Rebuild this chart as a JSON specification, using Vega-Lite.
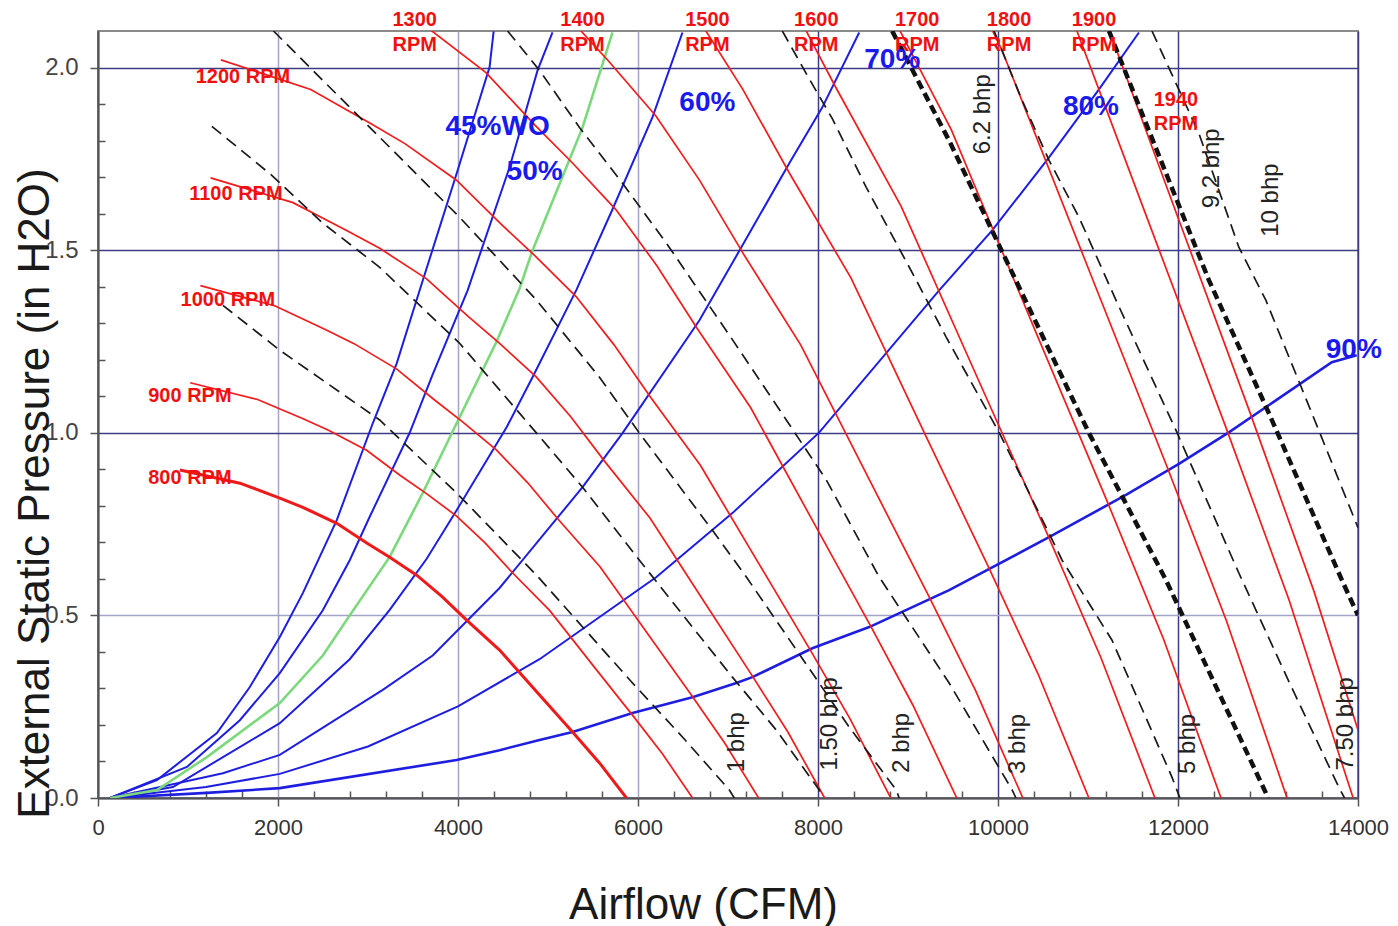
{
"$schema": "https://vega.github.io/schema/vega-lite/v6.json",
"width": 1260, "height": 767,
"autosize": "none",
"padding": {"left": 98, "top": 31, "right": 40, "bottom": 128},
"background": "white",
"config": {"font": "Liberation Sans", "view": {"stroke": "#8a8a8a", "strokeWidth": 2}},
"datasets": {
"L": [
{"s":"b45","k":"blue","q":133,"p":0},{"s":"b45","k":"blue","q":655,"p":0.049},{"s":"b45","k":"blue","q":1321,"p":0.178},{"s":"b45","k":"blue","q":1687,"p":0.304},{"s":"b45","k":"blue","q":2020,"p":0.441},{"s":"b45","k":"blue","q":2276,"p":0.561},{"s":"b45","k":"blue","q":2653,"p":0.761},{"s":"b45","k":"blue","q":3053,"p":1.026},{"s":"b45","k":"blue","q":3319,"p":1.19},{"s":"b45","k":"blue","q":3574,"p":1.39},{"s":"b45","k":"blue","q":3985,"p":1.71},{"s":"b45","k":"blue","q":4351,"p":2.001},{"s":"b45","k":"blue","q":4396,"p":2.099},
{"s":"b50","k":"blue","q":133,"p":0},{"s":"b50","k":"blue","q":988,"p":0.085},{"s":"b50","k":"blue","q":1576,"p":0.213},{"s":"b50","k":"blue","q":2020,"p":0.342},{"s":"b50","k":"blue","q":2498,"p":0.514},{"s":"b50","k":"blue","q":2797,"p":0.651},{"s":"b50","k":"blue","q":3019,"p":0.77},{"s":"b50","k":"blue","q":3463,"p":1.0},{"s":"b50","k":"blue","q":3719,"p":1.16},{"s":"b50","k":"blue","q":4107,"p":1.39},{"s":"b50","k":"blue","q":4573,"p":1.727},{"s":"b50","k":"blue","q":4884,"p":1.992},{"s":"b50","k":"blue","q":5050,"p":2.096},
{"s":"g55","k":"green","q":133,"p":0},{"s":"g55","k":"green","q":655,"p":0.022},{"s":"g55","k":"green","q":1210,"p":0.112},{"s":"g55","k":"green","q":2020,"p":0.26},{"s":"g55","k":"green","q":2498,"p":0.39},{"s":"g55","k":"green","q":2797,"p":0.5},{"s":"g55","k":"green","q":3241,"p":0.66},{"s":"g55","k":"green","q":3608,"p":0.835},{"s":"g55","k":"green","q":3985,"p":1.026},{"s":"g55","k":"green","q":4429,"p":1.25},{"s":"g55","k":"green","q":4684,"p":1.395},{"s":"g55","k":"green","q":4829,"p":1.5},{"s":"g55","k":"green","q":5384,"p":1.836},{"s":"g55","k":"green","q":5717,"p":2.096},
{"s":"b60","k":"blue","q":133,"p":0},{"s":"b60","k":"blue","q":833,"p":0.03},{"s":"b60","k":"blue","q":2020,"p":0.205},{"s":"b60","k":"blue","q":2797,"p":0.38},{"s":"b60","k":"blue","q":3241,"p":0.515},{"s":"b60","k":"blue","q":3652,"p":0.655},{"s":"b60","k":"blue","q":3985,"p":0.788},{"s":"b60","k":"blue","q":4540,"p":1.015},{"s":"b60","k":"blue","q":4828,"p":1.152},{"s":"b60","k":"blue","q":5317,"p":1.392},{"s":"b60","k":"blue","q":5717,"p":1.612},{"s":"b60","k":"blue","q":6161,"p":1.864},{"s":"b60","k":"blue","q":6494,"p":2.096},
{"s":"b70","k":"blue","q":133,"p":0},{"s":"b70","k":"blue","q":1388,"p":0.068},{"s":"b70","k":"blue","q":2020,"p":0.118},{"s":"b70","k":"blue","q":3164,"p":0.296},{"s":"b70","k":"blue","q":3719,"p":0.39},{"s":"b70","k":"blue","q":4462,"p":0.575},{"s":"b70","k":"blue","q":5384,"p":0.851},{"s":"b70","k":"blue","q":5828,"p":0.999},{"s":"b70","k":"blue","q":6683,"p":1.308},{"s":"b70","k":"blue","q":7237,"p":1.546},{"s":"b70","k":"blue","q":7681,"p":1.738},{"s":"b70","k":"blue","q":8048,"p":1.891},{"s":"b70","k":"blue","q":8458,"p":2.096},
{"s":"b80","k":"blue","q":133,"p":0},{"s":"b80","k":"blue","q":1200,"p":0.03},{"s":"b80","k":"blue","q":2020,"p":0.066},{"s":"b80","k":"blue","q":3000,"p":0.141},{"s":"b80","k":"blue","q":4000,"p":0.251},{"s":"b80","k":"blue","q":4906,"p":0.38},{"s":"b80","k":"blue","q":6205,"p":0.605},{"s":"b80","k":"blue","q":7049,"p":0.78},{"s":"b80","k":"blue","q":8014,"p":1.001},{"s":"b80","k":"blue","q":9346,"p":1.39},{"s":"b80","k":"blue","q":9935,"p":1.554},{"s":"b80","k":"blue","q":10567,"p":1.754},{"s":"b80","k":"blue","q":11122,"p":1.94},{"s":"b80","k":"blue","q":11566,"p":2.096},
{"s":"b90","k":"blue9","q":133,"p":0},{"s":"b90","k":"blue9","q":1210,"p":0.014},{"s":"b90","k":"blue9","q":2020,"p":0.027},{"s":"b90","k":"blue9","q":3985,"p":0.104},{"s":"b90","k":"blue9","q":4462,"p":0.131},{"s":"b90","k":"blue9","q":4906,"p":0.159},{"s":"b90","k":"blue9","q":5273,"p":0.181},{"s":"b90","k":"blue9","q":5939,"p":0.233},{"s":"b90","k":"blue9","q":6605,"p":0.276},{"s":"b90","k":"blue9","q":7093,"p":0.315},{"s":"b90","k":"blue9","q":7271,"p":0.331},{"s":"b90","k":"blue9","q":7937,"p":0.41},{"s":"b90","k":"blue9","q":8569,"p":0.468},{"s":"b90","k":"blue9","q":9457,"p":0.569},{"s":"b90","k":"blue9","q":10567,"p":0.714},{"s":"b90","k":"blue9","q":11422,"p":0.83},{"s":"b90","k":"blue9","q":12010,"p":0.915},{"s":"b90","k":"blue9","q":12565,"p":1.001},{"s":"b90","k":"blue9","q":13709,"p":1.193},{"s":"b90","k":"blue9","q":13986,"p":1.212},
{"s":"r800","k":"red8","q":910,"p":0.898},{"s":"r800","k":"red8","q":1576,"p":0.862},{"s":"r800","k":"red8","q":2020,"p":0.821},{"s":"r800","k":"red8","q":2276,"p":0.796},{"s":"r800","k":"red8","q":2653,"p":0.752},{"s":"r800","k":"red8","q":2986,"p":0.698},{"s":"r800","k":"red8","q":3241,"p":0.659},{"s":"r800","k":"red8","q":3541,"p":0.61},{"s":"r800","k":"red8","q":3820,"p":0.552},{"s":"r800","k":"red8","q":4096,"p":0.487},{"s":"r800","k":"red8","q":4462,"p":0.405},{"s":"r800","k":"red8","q":4906,"p":0.282},{"s":"r800","k":"red8","q":5273,"p":0.181},{"s":"r800","k":"red8","q":5572,"p":0.096},{"s":"r800","k":"red8","q":5872,"p":0},
{"s":"r900","k":"red","q":1024,"p":1.137},{"s":"r900","k":"red","q":1773,"p":1.091},{"s":"r900","k":"red","q":2273,"p":1.039},{"s":"r900","k":"red","q":2561,"p":1.007},{"s":"r900","k":"red","q":2985,"p":0.952},{"s":"r900","k":"red","q":3359,"p":0.883},{"s":"r900","k":"red","q":3646,"p":0.834},{"s":"r900","k":"red","q":3984,"p":0.772},{"s":"r900","k":"red","q":4298,"p":0.699},{"s":"r900","k":"red","q":4608,"p":0.616},{"s":"r900","k":"red","q":5020,"p":0.513},{"s":"r900","k":"red","q":5519,"p":0.357},{"s":"r900","k":"red","q":5932,"p":0.229},{"s":"r900","k":"red","q":6269,"p":0.122},{"s":"r900","k":"red","q":6606,"p":0},
{"s":"r1000","k":"red","q":1138,"p":1.403},{"s":"r1000","k":"red","q":1970,"p":1.347},{"s":"r1000","k":"red","q":2525,"p":1.283},{"s":"r1000","k":"red","q":2845,"p":1.244},{"s":"r1000","k":"red","q":3316,"p":1.175},{"s":"r1000","k":"red","q":3733,"p":1.091},{"s":"r1000","k":"red","q":4051,"p":1.03},{"s":"r1000","k":"red","q":4426,"p":0.953},{"s":"r1000","k":"red","q":4775,"p":0.863},{"s":"r1000","k":"red","q":5120,"p":0.761},{"s":"r1000","k":"red","q":5578,"p":0.633},{"s":"r1000","k":"red","q":6133,"p":0.441},{"s":"r1000","k":"red","q":6591,"p":0.283},{"s":"r1000","k":"red","q":6965,"p":0.15},{"s":"r1000","k":"red","q":7340,"p":0},
{"s":"r1100","k":"red","q":1251,"p":1.698},{"s":"r1100","k":"red","q":2167,"p":1.63},{"s":"r1100","k":"red","q":2778,"p":1.552},{"s":"r1100","k":"red","q":3130,"p":1.505},{"s":"r1100","k":"red","q":3648,"p":1.422},{"s":"r1100","k":"red","q":4106,"p":1.32},{"s":"r1100","k":"red","q":4456,"p":1.246},{"s":"r1100","k":"red","q":4869,"p":1.153},{"s":"r1100","k":"red","q":5253,"p":1.044},{"s":"r1100","k":"red","q":5632,"p":0.921},{"s":"r1100","k":"red","q":6135,"p":0.766},{"s":"r1100","k":"red","q":6746,"p":0.533},{"s":"r1100","k":"red","q":7250,"p":0.342},{"s":"r1100","k":"red","q":7662,"p":0.182},{"s":"r1100","k":"red","q":8074,"p":0},
{"s":"r1200","k":"red","q":1365,"p":2.021},{"s":"r1200","k":"red","q":2364,"p":1.94},{"s":"r1200","k":"red","q":3030,"p":1.847},{"s":"r1200","k":"red","q":3414,"p":1.791},{"s":"r1200","k":"red","q":3980,"p":1.692},{"s":"r1200","k":"red","q":4479,"p":1.571},{"s":"r1200","k":"red","q":4862,"p":1.483},{"s":"r1200","k":"red","q":5312,"p":1.373},{"s":"r1200","k":"red","q":5730,"p":1.242},{"s":"r1200","k":"red","q":6144,"p":1.096},{"s":"r1200","k":"red","q":6693,"p":0.911},{"s":"r1200","k":"red","q":7359,"p":0.635},{"s":"r1200","k":"red","q":7910,"p":0.407},{"s":"r1200","k":"red","q":8358,"p":0.216},{"s":"r1200","k":"red","q":8808,"p":0},
{"s":"r1300","k":"red","q":3283,"p":2.168},{"s":"r1300","k":"red","q":3699,"p":2.102},{"s":"r1300","k":"red","q":4311,"p":1.986},{"s":"r1300","k":"red","q":4852,"p":1.843},{"s":"r1300","k":"red","q":5267,"p":1.74},{"s":"r1300","k":"red","q":5754,"p":1.611},{"s":"r1300","k":"red","q":6208,"p":1.458},{"s":"r1300","k":"red","q":6656,"p":1.286},{"s":"r1300","k":"red","q":7251,"p":1.069},{"s":"r1300","k":"red","q":7972,"p":0.745},{"s":"r1300","k":"red","q":8569,"p":0.478},{"s":"r1300","k":"red","q":9055,"p":0.254},{"s":"r1300","k":"red","q":9542,"p":0},
{"s":"r1400","k":"red","q":5226,"p":2.138},{"s":"r1400","k":"red","q":5672,"p":2.018},{"s":"r1400","k":"red","q":6197,"p":1.868},{"s":"r1400","k":"red","q":6685,"p":1.691},{"s":"r1400","k":"red","q":7168,"p":1.491},{"s":"r1400","k":"red","q":7809,"p":1.24},{"s":"r1400","k":"red","q":8586,"p":0.864},{"s":"r1400","k":"red","q":9228,"p":0.554},{"s":"r1400","k":"red","q":9751,"p":0.294},{"s":"r1400","k":"red","q":10276,"p":0},
{"s":"r1500","k":"red","q":6639,"p":2.145},{"s":"r1500","k":"red","q":7163,"p":1.941},{"s":"r1500","k":"red","q":7680,"p":1.712},{"s":"r1500","k":"red","q":8366,"p":1.424},{"s":"r1500","k":"red","q":9199,"p":0.991},{"s":"r1500","k":"red","q":9887,"p":0.636},{"s":"r1500","k":"red","q":10448,"p":0.338},{"s":"r1500","k":"red","q":11010,"p":0},
{"s":"r1600","k":"red","q":7640,"p":2.208},{"s":"r1600","k":"red","q":8192,"p":1.948},{"s":"r1600","k":"red","q":8924,"p":1.62},{"s":"r1600","k":"red","q":9812,"p":1.128},{"s":"r1600","k":"red","q":10546,"p":0.724},{"s":"r1600","k":"red","q":11144,"p":0.384},{"s":"r1600","k":"red","q":11744,"p":0},
{"s":"r1700","k":"red","q":8704,"p":2.199},{"s":"r1700","k":"red","q":9482,"p":1.829},{"s":"r1700","k":"red","q":10425,"p":1.273},{"s":"r1700","k":"red","q":11205,"p":0.817},{"s":"r1700","k":"red","q":11841,"p":0.434},{"s":"r1700","k":"red","q":12478,"p":0},
{"s":"r1800","k":"red","q":9216,"p":2.465},{"s":"r1800","k":"red","q":10040,"p":2.05},{"s":"r1800","k":"red","q":11039,"p":1.428},{"s":"r1800","k":"red","q":11864,"p":0.916},{"s":"r1800","k":"red","q":12537,"p":0.486},{"s":"r1800","k":"red","q":13212,"p":0},
{"s":"r1900","k":"red","q":9728,"p":2.747},{"s":"r1900","k":"red","q":10597,"p":2.284},{"s":"r1900","k":"red","q":11652,"p":1.591},{"s":"r1900","k":"red","q":12523,"p":1.021},{"s":"r1900","k":"red","q":13234,"p":0.542},{"s":"r1900","k":"red","q":13946,"p":0},
{"s":"r1940","k":"red","q":9933,"p":2.864},{"s":"r1940","k":"red","q":10820,"p":2.382},{"s":"r1940","k":"red","q":11897,"p":1.658},{"s":"r1940","k":"red","q":12787,"p":1.064},{"s":"r1940","k":"red","q":13512,"p":0.565},{"s":"r1940","k":"red","q":14240,"p":0},
{"s":"d1","k":"dash","q":1388,"p":1.349},{"s":"d1","k":"dash","q":2020,"p":1.226},{"s":"d1","k":"dash","q":3130,"p":1.035},{"s":"d1","k":"dash","q":3985,"p":0.835},{"s":"d1","k":"dash","q":4873,"p":0.61},{"s":"d1","k":"dash","q":5317,"p":0.487},{"s":"d1","k":"dash","q":5939,"p":0.315},{"s":"d1","k":"dash","q":6494,"p":0.167},{"s":"d1","k":"dash","q":7015,"p":0.022},{"s":"d1","k":"dash","q":7070,"p":0},
{"s":"d15","k":"dash","q":1265,"p":1.839},{"s":"d15","k":"dash","q":1931,"p":1.705},{"s":"d15","k":"dash","q":2498,"p":1.574},{"s":"d15","k":"dash","q":3130,"p":1.453},{"s":"d15","k":"dash","q":4018,"p":1.245},{"s":"d15","k":"dash","q":4873,"p":0.999},{"s":"d15","k":"dash","q":5384,"p":0.851},{"s":"d15","k":"dash","q":6016,"p":0.651},{"s":"d15","k":"dash","q":6605,"p":0.468},{"s":"d15","k":"dash","q":7049,"p":0.331},{"s":"d15","k":"dash","q":7537,"p":0.186},{"s":"d15","k":"dash","q":8014,"p":0.022},{"s":"d15","k":"dash","q":8048,"p":0},
{"s":"d2","k":"dash","q":1950,"p":2.1},{"s":"d2","k":"dash","q":3053,"p":1.828},{"s":"d2","k":"dash","q":4018,"p":1.59},{"s":"d2","k":"dash","q":4873,"p":1.363},{"s":"d2","k":"dash","q":5572,"p":1.152},{"s":"d2","k":"dash","q":6016,"p":0.999},{"s":"d2","k":"dash","q":6827,"p":0.733},{"s":"d2","k":"dash","q":7204,"p":0.605},{"s":"d2","k":"dash","q":7937,"p":0.342},{"s":"d2","k":"dash","q":8347,"p":0.194},{"s":"d2","k":"dash","q":8869,"p":0.022},{"s":"d2","k":"dash","q":8902,"p":0},
{"s":"d3","k":"dash","q":4551,"p":2.1},{"s":"d3","k":"dash","q":4906,"p":1.992},{"s":"d3","k":"dash","q":5350,"p":1.836},{"s":"d3","k":"dash","q":5828,"p":1.683},{"s":"d3","k":"dash","q":6316,"p":1.519},{"s":"d3","k":"dash","q":6649,"p":1.399},{"s":"d3","k":"dash","q":7049,"p":1.255},{"s":"d3","k":"dash","q":7648,"p":1.035},{"s":"d3","k":"dash","q":8092,"p":0.871},{"s":"d3","k":"dash","q":8680,"p":0.605},{"s":"d3","k":"dash","q":9457,"p":0.315},{"s":"d3","k":"dash","q":10157,"p":0.022},{"s":"d3","k":"dash","q":10200,"p":0},
{"s":"d5","k":"dash","q":7604,"p":2.1},{"s":"d5","k":"dash","q":7900,"p":1.97},{"s":"d5","k":"dash","q":8159,"p":1.86},{"s":"d5","k":"dash","q":8536,"p":1.672},{"s":"d5","k":"dash","q":9091,"p":1.418},{"s":"d5","k":"dash","q":9424,"p":1.262},{"s":"d5","k":"dash","q":10012,"p":1.001},{"s":"d5","k":"dash","q":10567,"p":0.725},{"s":"d5","k":"dash","q":10712,"p":0.651},{"s":"d5","k":"dash","q":11267,"p":0.432},{"s":"d5","k":"dash","q":11933,"p":0.057},{"s":"d5","k":"dash","q":12021,"p":0},
{"s":"d75","k":"dash","q":9957,"p":2.1},{"s":"d75","k":"dash","q":10268,"p":1.91},{"s":"d75","k":"dash","q":10567,"p":1.746},{"s":"d75","k":"dash","q":10900,"p":1.59},{"s":"d75","k":"dash","q":11311,"p":1.363},{"s":"d75","k":"dash","q":11977,"p":1.007},{"s":"d75","k":"dash","q":12676,"p":0.616},{"s":"d75","k":"dash","q":13230,"p":0.32},{"s":"d75","k":"dash","q":13786,"p":0.03},{"s":"d75","k":"dash","q":13850,"p":0},
{"s":"d10","k":"dash","q":11711,"p":2.1},{"s":"d10","k":"dash","q":12232,"p":1.82},{"s":"d10","k":"dash","q":12676,"p":1.508},{"s":"d10","k":"dash","q":12976,"p":1.363},{"s":"d10","k":"dash","q":13564,"p":1.007},{"s":"d10","k":"dash","q":14000,"p":0.74},
{"s":"t62","k":"dashT","q":8824,"p":2.1},{"s":"t62","k":"dashT","q":9457,"p":1.8},{"s":"t62","k":"dashT","q":10034,"p":1.502},{"s":"t62","k":"dashT","q":11011,"p":0.999},{"s":"t62","k":"dashT","q":11866,"p":0.597},{"s":"t62","k":"dashT","q":12976,"p":0.014},{"s":"t62","k":"dashT","q":13000,"p":0},
{"s":"t92","k":"dashT","q":11233,"p":2.1},{"s":"t92","k":"dashT","q":12343,"p":1.418},{"s":"t92","k":"dashT","q":13009,"p":1.054},{"s":"t92","k":"dashT","q":13820,"p":0.597},{"s":"t92","k":"dashT","q":14000,"p":0.5}
],
"T": [
{"t":"800 RPM","g":"rpm","q":1021,"p":0.876},
{"t":"900 RPM","g":"rpm","q":1021,"p":1.1},
{"t":"1000 RPM","g":"rpm","q":1443,"p":1.363},
{"t":"1100 RPM","g":"rpm","q":1532,"p":1.653},
{"t":"1200 RPM","g":"rpm","q":1610,"p":1.973},
{"t":"1300","g":"rpm","q":3519,"p":2.129},{"t":"RPM","g":"rpm","q":3519,"p":2.063},
{"t":"1400","g":"rpm","q":5384,"p":2.129},{"t":"RPM","g":"rpm","q":5384,"p":2.063},
{"t":"1500","g":"rpm","q":6771,"p":2.129},{"t":"RPM","g":"rpm","q":6771,"p":2.063},
{"t":"1600","g":"rpm","q":7981,"p":2.129},{"t":"RPM","g":"rpm","q":7981,"p":2.063},
{"t":"1700","g":"rpm","q":9102,"p":2.129},{"t":"RPM","g":"rpm","q":9102,"p":2.063},
{"t":"1800","g":"rpm","q":10123,"p":2.129},{"t":"RPM","g":"rpm","q":10123,"p":2.063},
{"t":"1900","g":"rpm","q":11067,"p":2.129},{"t":"RPM","g":"rpm","q":11067,"p":2.063},
{"t":"1940","g":"rpm","q":11977,"p":1.91},{"t":"RPM","g":"rpm","q":11977,"p":1.845},
{"t":"45%WO","g":"pct","q":4440,"p":1.836},
{"t":"50%","g":"pct","q":4851,"p":1.713},
{"t":"60%","g":"pct","q":6771,"p":1.902},
{"t":"70%","g":"pct","q":8825,"p":2.02},
{"t":"80%","g":"pct","q":11033,"p":1.891},
{"t":"90%","g":"pct","q":13953,"p":1.226},
{"t":"1 bhp","g":"bhp","q":7104,"p":0.153},
{"t":"1.50 bhp","g":"bhp","q":8136,"p":0.203},
{"t":"2 bhp","g":"bhp","q":8936,"p":0.151},
{"t":"3 bhp","g":"bhp","q":10223,"p":0.148},
{"t":"5 bhp","g":"bhp","q":12110,"p":0.148},
{"t":"7.50 bhp","g":"bhp","q":13864,"p":0.203},
{"t":"6.2 bhp","g":"bhp","q":9835,"p":1.872},
{"t":"9.2 bhp","g":"bhp","q":12377,"p":1.724},
{"t":"10 bhp","g":"bhp","q":13031,"p":1.637}
]
},
"encoding": {
"x": {"field": "q", "type": "quantitative",
 "scale": {"domain": [0, 14000], "nice": false, "zero": false},
 "axis": {"title": "Airflow (CFM)",
  "values": [0,400,800,1200,1600,2000,2400,2800,3200,3600,4000,4400,4800,5200,5600,6000,6400,6800,7200,7600,8000,8400,8800,9200,9600,10000,10400,10800,11200,11600,12000,12400,12800,13200,13600,14000],
  "labelExpr": "datum.value % 2000 == 0 ? datum.label : ''",
  "format": "d", "labelFlush": false, "labelOverlap": false,
  "labelFontSize": 22, "labelColor": "#333333", "labelPadding": 11,
  "domainColor": "#555555", "domainWidth": 2,
  "tickColor": "#555555", "tickWidth": 1.5,
  "tickSize": {"condition": {"test": "datum.value % 2000 != 0", "value": -7}, "value": 8},
  "grid": true,
  "gridOpacity": {"condition": {"test": "datum.value % 2000 != 0", "value": 0}, "value": 1},
  "gridColor": {"condition": {"test": "datum.value > 0 && datum.value <= 6000", "value": "#a3a3c8"}, "value": "#3c3c84"},
  "gridWidth": 1.5,
  "titleFontSize": 44, "titleFontWeight": "normal", "titleColor": "#1a1a1a",
  "titleX": 605, "titleY": 120, "titleAlign": "center", "titleBaseline": "alphabetic"}},
"y": {"field": "p", "type": "quantitative",
 "scale": {"domain": [0, 2.1], "nice": false, "zero": false},
 "axis": {"title": "External Static Pressure (in H2O)",
  "values": [0,0.1,0.2,0.3,0.4,0.5,0.6,0.7,0.8,0.9,1.0,1.1,1.2,1.3,1.4,1.5,1.6,1.7,1.8,1.9,2.0],
  "labelExpr": "round(datum.value*10) % 5 == 0 ? format(datum.value, '.1f') : ''",
  "labelFlush": false, "labelOverlap": false,
  "labelFontSize": 24, "labelColor": "#444444", "labelPadding": 12,
  "domainColor": "#555555", "domainWidth": 2,
  "tickColor": "#555555", "tickWidth": 1.5,
  "tickSize": {"condition": {"test": "round(datum.value*10) % 5 != 0", "value": -7}, "value": 8},
  "grid": true,
  "gridOpacity": {"condition": {"test": "round(datum.value*10) % 5 != 0", "value": 0}, "value": 1},
  "gridColor": {"condition": {"test": "abs(datum.value - 0.5) < 0.01", "value": "#a3a3c8"}, "value": "#3c3c84"},
  "gridWidth": 1.5,
  "titleFontSize": 44, "titleFontWeight": "normal", "titleColor": "#1a1a1a",
  "titleAngle": 270, "titleX": -50, "titleY": 462, "titleAlign": "center", "titleBaseline": "alphabetic"}}
},
"layer": [
{"data": {"name": "L"}, "transform": [{"filter": "datum.k == 'blue'"}],
 "mark": {"type": "line", "color": "#1e1ee0", "strokeWidth": 2, "clip": true},
 "encoding": {"detail": {"field": "s"}}},
{"data": {"name": "L"}, "transform": [{"filter": "datum.k == 'blue9'"}],
 "mark": {"type": "line", "color": "#1e1ee0", "strokeWidth": 2.6, "clip": true},
 "encoding": {"detail": {"field": "s"}}},
{"data": {"name": "L"}, "transform": [{"filter": "datum.k == 'green'"}],
 "mark": {"type": "line", "color": "#7bd87b", "strokeWidth": 2.6, "clip": true},
 "encoding": {"detail": {"field": "s"}}},
{"data": {"name": "L"}, "transform": [{"filter": "datum.k == 'red'"}],
 "mark": {"type": "line", "color": "#f21c1c", "strokeWidth": 1.7, "clip": true},
 "encoding": {"detail": {"field": "s"}}},
{"data": {"name": "L"}, "transform": [{"filter": "datum.k == 'red8'"}],
 "mark": {"type": "line", "color": "#ee1a1a", "strokeWidth": 3, "clip": true},
 "encoding": {"detail": {"field": "s"}}},
{"data": {"name": "L"}, "transform": [{"filter": "datum.k == 'dash'"}],
 "mark": {"type": "line", "color": "#1a1a1a", "strokeWidth": 1.7, "strokeDash": [12, 7], "clip": true},
 "encoding": {"detail": {"field": "s"}}},
{"data": {"name": "L"}, "transform": [{"filter": "datum.k == 'dashT'"}],
 "mark": {"type": "line", "color": "#111111", "strokeWidth": 4.5, "strokeDash": [9, 5], "clip": true},
 "encoding": {"detail": {"field": "s"}}},
{"data": {"name": "T"}, "transform": [{"filter": "datum.g == 'rpm'"}],
 "mark": {"type": "text", "color": "#f01010", "fontSize": 20, "fontWeight": "bold", "align": "center", "baseline": "middle"},
 "encoding": {"text": {"field": "t"}}},
{"data": {"name": "T"}, "transform": [{"filter": "datum.g == 'pct'"}],
 "mark": {"type": "text", "color": "#1a1aee", "fontSize": 28, "fontWeight": "bold", "align": "center", "baseline": "middle"},
 "encoding": {"text": {"field": "t"}}},
{"data": {"name": "T"}, "transform": [{"filter": "datum.g == 'bhp'"}],
 "mark": {"type": "text", "color": "#222222", "fontSize": 24, "angle": 270, "align": "center", "baseline": "middle"},
 "encoding": {"text": {"field": "t"}}}
]
}
